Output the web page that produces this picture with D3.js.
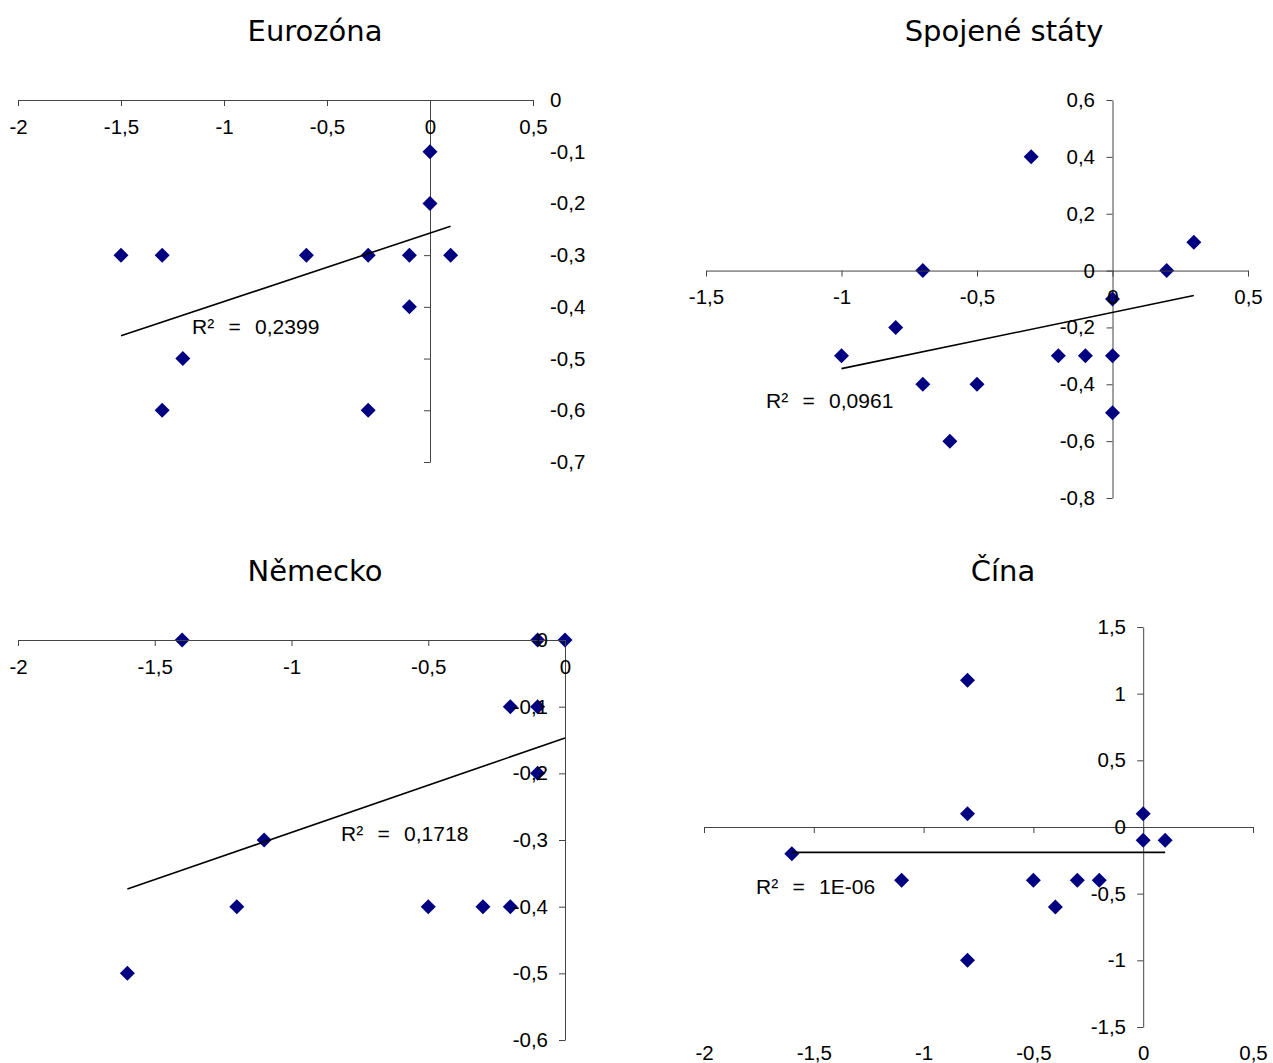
<!DOCTYPE html>
<html>
<head>
<meta charset="utf-8">
<script src="https://cdn.jsdelivr.net/npm/d3@7"></script>
<style>
  html, body { margin: 0; padding: 0; background: #fff; }
  svg { display: block; }
</style>
</head>
<body>
<svg id="chart" width="1273" height="1063"></svg>
<script>
// ---- Data: quarterly deviations (x) vs. revisions (y) per economy ----
const euroX = [0, 0, -1.5, -1.3, -0.6, -0.3, -0.1, 0.1, -0.1, -1.2, -1.3, -0.3];
const euroY = [-0.1, -0.2, -0.3, -0.3, -0.3, -0.3, -0.3, -0.3, -0.4, -0.5, -0.6, -0.6];
const euroTrendX = [-1.5, 0.1];
const euroTrendY = [-0.456, -0.244];
const euroR2 = "R² = 0,2399";

const usX = [-0.3, 0.3, -0.7, 0.2, 0, -0.8, -1, -0.2, -0.1, 0, -0.7, -0.5, 0, -0.6];
const usY = [0.4, 0.1, 0, 0, -0.1, -0.2, -0.3, -0.3, -0.3, -0.3, -0.4, -0.4, -0.5, -0.6];
const usTrendX = [-1, 0.3];
const usTrendY = [-0.345, -0.088];
const usR2 = "R² = 0,0961";

const deX = [-1.4, -0.1, 0, -0.2, -0.1, -0.1, -1.1, -1.2, -0.5, -0.3, -0.2, -1.6];
const deY = [0, 0, 0, -0.1, -0.1, -0.2, -0.3, -0.4, -0.4, -0.4, -0.4, -0.5];
const deTrendX = [-1.6, 0];
const deTrendY = [-0.3735, -0.147];
const deR2 = "R² = 0,1718";

const cnX = [-0.8, -0.8, 0, 0, 0.1, -1.6, -1.1, -0.5, -0.3, -0.2, -0.4, -0.8];
const cnY = [1.1, 0.1, 0.1, -0.1, -0.1, -0.2, -0.4, -0.4, -0.4, -0.4, -0.6, -1];
const cnTrendX = [-1.6, 0.1];
const cnTrendY = [-0.19, -0.19];
const cnR2 = "R² = 1E-06";

// ---- Tick values ----
const euroXTicks = [-2, -1.5, -1, -0.5, 0, 0.5];
const euroYTicks = [0, -0.1, -0.2, -0.3, -0.4, -0.5, -0.6, -0.7];
const usXTicks = [-1.5, -1, -0.5, 0, 0.5];
const usYTicks = [0.6, 0.4, 0.2, 0, -0.2, -0.4, -0.6, -0.8];
const deXTicks = [-2, -1.5, -1, -0.5, 0];
const deYTicks = [0, -0.1, -0.2, -0.3, -0.4, -0.5, -0.6];
const cnXTicks = [-2, -1.5, -1, -0.5, 0, 0.5];
const cnYTicks = [1.5, 1, 0.5, 0, -0.5, -1, -1.5];

const titles = ["Eurozóna", "Spojené státy", "Německo", "Čína"];

// ---- Layout of each panel (pixel geometry) ----
const panels = [
  { title: titles[0], xs: euroX, ys: euroY, tx: euroTrendX, ty: euroTrendY, r2: euroR2,
    xTicks: euroXTicks, yTicks: euroYTicks,
    xDom: [-2, 0.5], xRange: [18, 533], yDom: [-0.7, 0], yRange: [462, 100],
    titleX: 315, titleY: 41, yLabelSide: "right", yLabelX: 550, xLabelY: null,
    r2X: 192, r2Y: 334 },
  { title: titles[1], xs: usX, ys: usY, tx: usTrendX, ty: usTrendY, r2: usR2,
    xTicks: usXTicks, yTicks: usYTicks,
    xDom: [-1.5, 0.5], xRange: [706, 1248], yDom: [-0.8, 0.6], yRange: [498, 100],
    titleX: 1004, titleY: 41, yLabelSide: "left", yLabelX: 1095, xLabelY: null,
    r2X: 766, r2Y: 408 },
  { title: titles[2], xs: deX, ys: deY, tx: deTrendX, ty: deTrendY, r2: deR2,
    xTicks: deXTicks, yTicks: deYTicks,
    xDom: [-2, 0], xRange: [18, 565], yDom: [-0.6, 0], yRange: [1040, 640],
    titleX: 315, titleY: 581, yLabelSide: "left", yLabelX: 548, xLabelY: null,
    r2X: 341, r2Y: 841 },
  { title: titles[3], xs: cnX, ys: cnY, tx: cnTrendX, ty: cnTrendY, r2: cnR2,
    xTicks: cnXTicks, yTicks: cnYTicks,
    xDom: [-2, 0.5], xRange: [704, 1253], yDom: [-1.5, 1.5], yRange: [1027, 627],
    titleX: 1003, titleY: 581, yLabelSide: "left", yLabelX: 1126, xLabelY: 1045,
    r2X: 756, r2Y: 894 }
];

const locale = d3.formatLocale({ decimal: ",", thousands: " ", grouping: [3], currency: ["", ""], minus: "-" });
const fmt = locale.format("~g");

const svg = d3.select("#chart");
const AXIS_COLOR = "#444";
const MARK_COLOR = "#000080";
const LABEL_FONT = "'Liberation Sans', Arial, sans-serif";
const TITLE_FONT = "'DejaVu Sans', Verdana, sans-serif";

// Diamond marker: square rotated 45°, half-diagonal r
const diamond = r => `M0,${-r}L${r},0L0,${r}L${-r},0Z`;

function styleAxis(g) {
  g.selectAll("path.domain").attr("stroke", AXIS_COLOR);
  g.selectAll(".tick line").attr("stroke", AXIS_COLOR);
  g.selectAll("text").attr("font-family", LABEL_FONT).attr("font-size", 20.5).attr("fill", "#000");
  g.attr("font-family", null).attr("font-size", null);
}

panels.forEach(p => {
  const x = d3.scaleLinear().domain(p.xDom).range(p.xRange);
  const y = d3.scaleLinear().domain(p.yDom).range(p.yRange);
  const g = svg.append("g");

  // Title
  g.append("text")
    .attr("x", p.titleX).attr("y", p.titleY)
    .attr("text-anchor", "middle")
    .attr("font-family", TITLE_FONT).attr("font-size", 29)
    .attr("fill", "#000")
    .text(p.title);

  // X axis line with downward ticks, crossing at y = 0
  const xAxis = g.append("g").attr("transform", `translate(0,${y(0)})`);
  if (p.xLabelY === null) {
    xAxis.call(d3.axisBottom(x).tickValues(p.xTicks).tickSize(6).tickSizeOuter(0)
      .tickPadding(13).tickFormat(fmt));
  } else {
    xAxis.call(d3.axisBottom(x).tickValues(p.xTicks).tickSize(6).tickSizeOuter(0)
      .tickFormat(""));
    const xl = g.append("g").attr("transform", `translate(0,${p.xLabelY})`)
      .call(d3.axisBottom(x).tickValues(p.xTicks).tickSize(0).tickPadding(0).tickFormat(fmt));
    xl.select("path.domain").remove();
    styleAxis(xl);
  }
  styleAxis(xAxis);

  // Y axis line with leftward ticks, crossing at x = 0
  const yAxis = g.append("g").attr("transform", `translate(${x(0)},0)`)
    .call(d3.axisLeft(y).tickValues(p.yTicks).tickSize(6).tickSizeOuter(0).tickFormat(""));
  styleAxis(yAxis);

  // Y tick labels
  const yl = g.append("g").attr("transform", `translate(${p.yLabelX},0)`)
    .call((p.yLabelSide === "right" ? d3.axisRight(y) : d3.axisLeft(y))
      .tickValues(p.yTicks).tickSize(0).tickPadding(0).tickFormat(fmt));
  yl.select("path.domain").remove();
  styleAxis(yl);

  // Points
  g.append("g").selectAll("path")
    .data(d3.zip(p.xs, p.ys))
    .join("path")
    .attr("transform", d => `translate(${x(d[0])},${y(d[1])})`)
    .attr("d", diamond(7.5))
    .attr("fill", MARK_COLOR);

  // Linear trend line
  g.append("path")
    .datum(d3.zip(p.tx, p.ty))
    .attr("d", d3.line().x(d => x(d[0])).y(d => y(d[1])))
    .attr("fill", "none").attr("stroke", "#000").attr("stroke-width", 1.6);

  // R² annotation
  g.append("text")
    .attr("x", p.r2X).attr("y", p.r2Y)
    .attr("font-family", LABEL_FONT).attr("font-size", 21)
    .attr("word-spacing", 8.5)
    .attr("fill", "#000")
    .text(p.r2);

  // Tick labels drawn above markers
  xAxis.raise(); yl.raise();
});
</script>
</body>
</html>
